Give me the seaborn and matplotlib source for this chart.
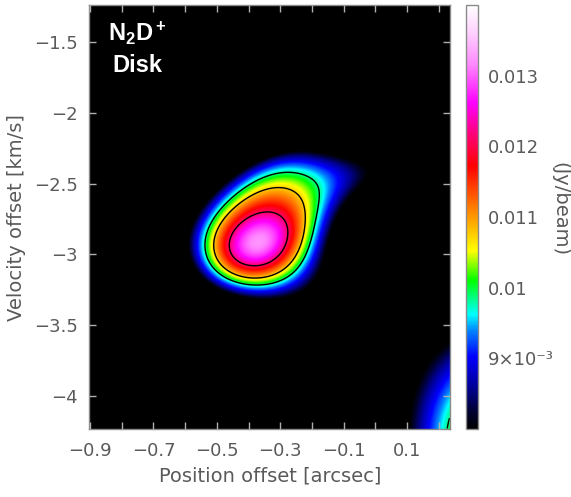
import numpy as np
import pandas as pd
import matplotlib
matplotlib.use("Agg")
import matplotlib.pyplot as plt
import seaborn as sns
from matplotlib.colors import LinearSegmentedColormap

sns.set_style("ticks")
plt.rcParams["font.family"] = ["DejaVu Sans"]
plt.rcParams["mathtext.fontset"] = "custom"
plt.rcParams["mathtext.rm"] = "Liberation Sans"
plt.rcParams["mathtext.bf"] = "Liberation Sans:bold"

# ---------------- data ----------------
# plotted ranges
position_range = (-0.9035, 0.2358)      # arcsec
velocity_range = (-4.236, -1.236)       # km/s
# emission components (elliptical gaussian blobs) making up the PV map
comp_position = [-0.3117, -0.3767, -0.3816, 0.0229, 0.4405, 0.1609]     # arcsec
comp_velocity = [-2.8336, -3.0868, -2.4270, -2.3598, -4.4291, -4.5869]  # km/s
comp_width_pos = [0.1847, 0.2282, 0.2059, 0.3150, 0.3931, 0.1136]       # arcsec
comp_width_vel = [0.2996, 0.3531, 0.3688, 0.2432, 1.0611, 0.1323]       # km/s
comp_corr = [0.548, -0.219, 0.687, 0.228, -0.150, -0.964]
comp_peak = [5.4520e-3, 7.1553e-3, 4.4353e-3, 5.1569e-3, 11.4739e-3, 6.8714e-3]  # Jy/beam
contour_levels = [0.00985, 0.01075, 0.0121]
cbar_ticks = [0.009, 0.010, 0.011, 0.012, 0.013]
cbar_ticklabels = ['9×10⁻³', '0.01', '0.011', '0.012', '0.013']
x_ticks = [-0.9, -0.8, -0.7, -0.6, -0.5, -0.4, -0.3, -0.2, -0.1, 0.0, 0.1, 0.2]
x_ticklabels = ['−0.9', '', '−0.7', '', '−0.5', '', '−0.3', '', '−0.1', '', '0.1', '']
y_ticks = [-1.5, -2.0, -2.5, -3.0, -3.5, -4.0]
y_ticklabels = ['−1.5', '−2', '−2.5', '−3', '−3.5', '−4']
vmin, vmax = 0.008, 0.014

# ---------------- map ----------------
nx, ny = 361, 424
dx = (position_range[1] - position_range[0]) / nx
dv = (velocity_range[1] - velocity_range[0]) / ny
xc = position_range[0] + (np.arange(nx) + 0.5) * dx
vc = velocity_range[1] - (np.arange(ny) + 0.5) * dv
XX, VV = np.meshgrid(xc, vc)
Z = np.zeros_like(XX)
for x0, v0, sx, sv, rho, a in zip(comp_position, comp_velocity, comp_width_pos,
                                  comp_width_vel, comp_corr, comp_peak):
    u = (XX - x0) / sx
    w = (VV - v0) / sv
    Z += a * np.exp(-0.5 * (u * u - 2 * rho * u * w + w * w) / (1 - rho * rho))
df = pd.DataFrame(Z, index=np.round(vc, 4), columns=np.round(xc, 4))

cmap_pos = [0.00, 0.04, 0.10, 0.17, 0.23, 0.27, 0.35, 0.42, 0.50, 0.62, 0.70, 0.77, 0.86, 0.93, 1.00]
cmap_col = ['#000000', '#000030', '#00009a', '#0000ff', '#0080ff', '#00ffff', '#00ff00', '#ffff00',
            '#ff9900', '#ff0000', '#ff0080', '#ff00ff', '#ff88ff', '#ffccff', '#ffffff']
cmap = LinearSegmentedColormap.from_list("pv", list(zip(cmap_pos, cmap_col)), N=512)

fig = plt.figure(figsize=(5.71, 4.97), dpi=100)
W_, H_ = 571, 497
ax = fig.add_axes([89 / W_, 1 - 429 / H_, 361 / W_, 424 / H_])
cax = fig.add_axes([466 / W_, 1 - 429 / H_, 12 / W_, 424 / H_])
sns.heatmap(df, ax=ax, cmap=cmap, vmin=vmin, vmax=vmax, cbar_ax=cax,
            xticklabels=False, yticklabels=False, rasterized=True)
ax.contour(np.arange(nx) + 0.5, np.arange(ny) + 0.5, Z, levels=contour_levels,
           colors='black', linewidths=1.0)

gray = '#5a5a5a'
ax.set_xticks((np.array(x_ticks) - position_range[0]) / dx)
ax.set_xticklabels(x_ticklabels)
ax.set_yticks((velocity_range[1] - np.array(y_ticks)) / dv)
ax.set_yticklabels(y_ticklabels, rotation=0)
ax.set_axisbelow(False)
ax.tick_params(axis='both', direction='in', length=5, width=1.0, color='#b0b0b0',
               top=True, right=True, labelsize=13, labelcolor=gray)
ax.tick_params(axis='x', pad=9)
ax.tick_params(axis='y', pad=8)
for s in ax.spines.values():
    s.set_visible(True)
    s.set_color('#8a8a8a')
    s.set_linewidth(1.0)

cb = ax.collections[0].colorbar
cb.set_ticks(cbar_ticks)
cb.set_ticklabels(cbar_ticklabels)
cb.ax.tick_params(direction='in', left=True, right=True, length=3, width=0.8, color='#222222',
                  labelsize=13, labelcolor=gray, pad=7)
cb.outline.set_edgecolor('#8a8a8a')
cb.outline.set_linewidth(1.0)

fig.text(270 / W_, 1 - 476 / H_, 'Position offset [arcsec]', ha='center', va='center',
         fontsize=14, color=gray)
fig.text(17 / W_, 1 - 218 / H_, 'Velocity offset [km/s]', ha='center', va='center',
         rotation=90, fontsize=14, color=gray)
fig.text(560 / W_, 1 - 209 / H_, '(Jy/beam)', ha='center', va='center', rotation=270,
         fontsize=14, color=gray)

ax.text(0.135, 0.915, r'$\mathbf{N_2D^+}$', transform=ax.transAxes, ha='center',
        va='baseline', fontsize=17, color='white')
ax.text(0.135, 0.842, 'Disk', transform=ax.transAxes, ha='center', va='baseline',
        fontsize=17, color='white', fontweight='bold', family='Liberation Sans')

fig.savefig("out.png", dpi=100)
